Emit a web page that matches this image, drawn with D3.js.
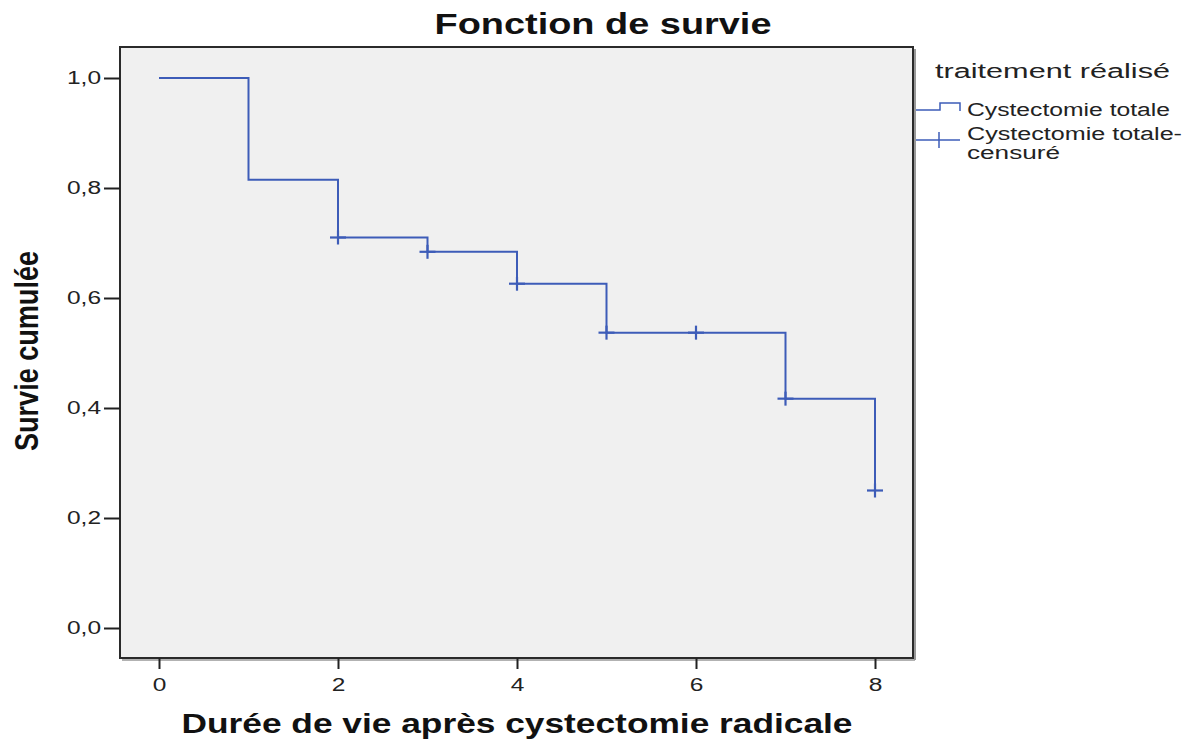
<!DOCTYPE html>
<html><head><meta charset="utf-8">
<script src="https://cdn.jsdelivr.net/npm/d3@7"></script>
<style>body{margin:0;background:#fff}svg{display:block;font-family:"Liberation Sans",Arial,sans-serif}</style>
</head><body>
<svg id="c" width="1194" height="742"></svg>
<script>
// Data
const stepTimes = [0, 1, 2, 3, 4, 5, 7, 8];
const stepSurvival = [1.0, 0.815, 0.71, 0.684, 0.626, 0.537, 0.417, 0.25];
const censorTimes = [2, 3, 4, 5, 6, 7, 8];
const censorSurvival = [0.71, 0.684, 0.626, 0.537, 0.537, 0.417, 0.25];
const xTicks = [0, 2, 4, 6, 8];
const yTicks = [0, 0.2, 0.4, 0.6, 0.8, 1.0];
const legendLabels = ["Cystectomie totale", "Cystectomie totale-|censuré"];

const svg = d3.select("#c");
const box = {l: 120, t: 47, r: 913, b: 658};
const x = d3.scaleLinear().domain([0, 8]).range([159, 875]);
const y = d3.scaleLinear().domain([0, 1]).range([628, 78]);
const col = "#3d5cb8";
const SX = 1.36;

function stretch(sel, len) {
  sel.each(function() {
    const n = this.getComputedTextLength();
    d3.select(this).attr("textLength", len != null ? len : n * SX).attr("lengthAdjust", "spacingAndGlyphs");
  });
}

// plot background
svg.append("rect").attr("x", box.l).attr("y", box.t).attr("width", box.r - box.l).attr("height", box.b - box.t)
  .attr("fill", "#f0f0f0").attr("stroke", "#2a2a2a").attr("stroke-width", 2);
svg.append("line").attr("x1", box.r + 2).attr("x2", box.r + 2).attr("y1", box.t + 2).attr("y2", box.b + 2).attr("stroke", "#999").attr("stroke-width", 2);
svg.append("line").attr("x1", box.l + 2).attr("x2", box.r + 2).attr("y1", box.b + 2).attr("y2", box.b + 2).attr("stroke", "#999").attr("stroke-width", 1.5);

// axes
const fmt = d => d3.format(".1f")(d).replace(".", ",");
const yAxis = svg.append("g").attr("transform", `translate(${box.l},0)`)
  .call(d3.axisLeft(y).tickValues(yTicks).tickFormat(fmt).tickSize(16).tickPadding(3));
const xAxis = svg.append("g").attr("transform", `translate(0,${box.b})`)
  .call(d3.axisBottom(x).tickValues(xTicks).tickFormat(d3.format("d")).tickSize(11).tickPadding(9));
[yAxis, xAxis].forEach(a => {
  a.select(".domain").remove();
  a.selectAll(".tick line").attr("stroke", "#222").attr("stroke-width", 2);
  a.selectAll(".tick text").attr("font-size", 18).attr("fill", "#222").attr("font-family", "Liberation Sans, Arial, sans-serif");
  stretch(a.selectAll(".tick text"));
});

// step line
const pts = [];
stepTimes.forEach((t, i) => {
  if (i > 0) pts.push([t, stepSurvival[i - 1]]);
  pts.push([t, stepSurvival[i]]);
});
const line = d3.line().x(d => x(d[0])).y(d => y(d[1]));
svg.append("path").attr("d", line(pts)).attr("fill", "none").attr("stroke", col).attr("stroke-width", 2);

// censor marks
censorTimes.forEach((t, i) => {
  const cx = x(t), cy = y(censorSurvival[i]);
  svg.append("line").attr("x1", cx - 8).attr("x2", cx + 8).attr("y1", cy).attr("y2", cy).attr("stroke", col).attr("stroke-width", 2.2);
  svg.append("line").attr("x1", cx).attr("x2", cx).attr("y1", cy - 7).attr("y2", cy + 7).attr("stroke", col).attr("stroke-width", 2.2);
});

// title & axis labels
svg.append("text").attr("x", 603).attr("y", 34).attr("text-anchor", "middle").attr("font-size", 29).attr("font-weight", "bold").attr("fill", "#111").text("Fonction de survie").call(stretch, 337);
svg.append("text").attr("x", 517).attr("y", 733).attr("text-anchor", "middle").attr("font-size", 27).attr("font-weight", "bold").attr("fill", "#111").text("Durée de vie après cystectomie radicale").call(stretch, 671);
svg.append("text").attr("transform", "translate(38,351) scale(1.3,1) rotate(-90)").attr("text-anchor", "middle").attr("font-size", 26).attr("font-weight", "bold").attr("fill", "#111").text("Survie cumulée").call(stretch, 200);

// legend
svg.append("text").attr("x", 935).attr("y", 78).attr("font-size", 20).attr("fill", "#222").text("traitement réalisé").call(stretch, 235);
svg.append("path").attr("d", "M916,110 H940 V103 H960 V111").attr("fill", "none").attr("stroke", col).attr("stroke-width", 1.5);
svg.append("line").attr("x1", 916).attr("x2", 960).attr("y1", 140).attr("y2", 140).attr("stroke", col).attr("stroke-width", 1.5);
svg.append("line").attr("x1", 939).attr("x2", 939).attr("y1", 132).attr("y2", 148).attr("stroke", col).attr("stroke-width", 1.5);
svg.append("text").attr("x", 967).attr("y", 116).attr("font-size", 18).attr("fill", "#222").text(legendLabels[0]).call(stretch, 203);
const parts = legendLabels[1].split("|");
svg.append("text").attr("x", 967).attr("y", 140).attr("font-size", 18).attr("fill", "#222").text(parts[0]).call(stretch, 215);
svg.append("text").attr("x", 967).attr("y", 159).attr("font-size", 18).attr("fill", "#222").text(parts[1]).call(stretch, 93);
</script>
</body></html>
